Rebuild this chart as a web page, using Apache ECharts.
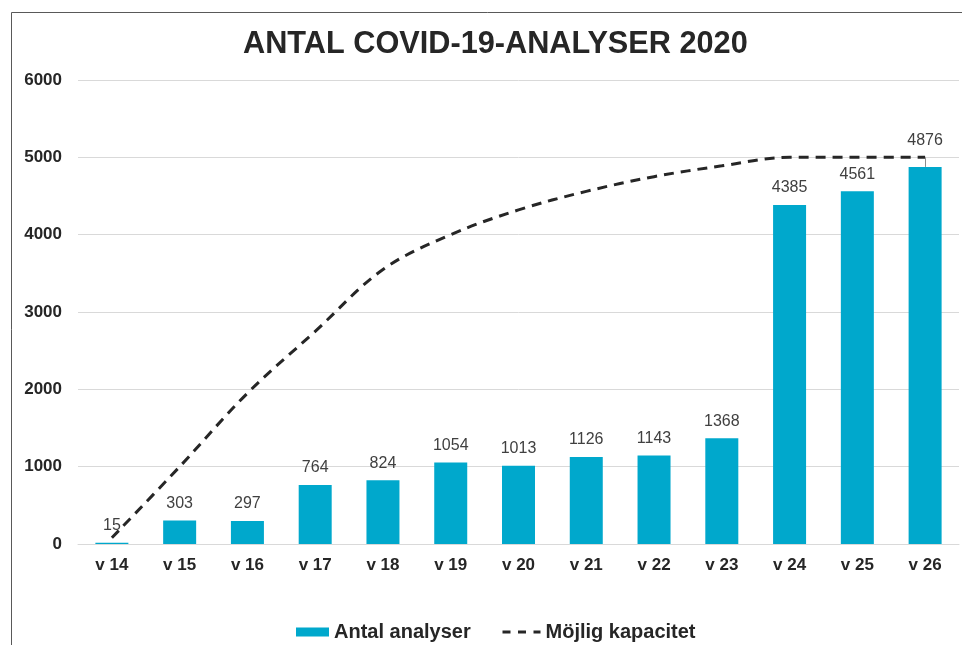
<!DOCTYPE html>
<html>
<head>
<meta charset="utf-8">
<script src="https://cdn.jsdelivr.net/npm/echarts@6/dist/echarts.min.js"></script>
<style>
html,body{margin:0;padding:0;background:#fff;}
#chart{width:962px;height:645px;}
</style>
</head>
<body>
<div id="chart"></div>
<script>
var categories = ['v 14','v 15','v 16','v 17','v 18','v 19','v 20','v 21','v 22','v 23','v 24','v 25','v 26'];
var antalAnalyser = [15, 303, 297, 764, 824, 1054, 1013, 1126, 1143, 1368, 4385, 4561, 4876];
var mojligKapacitet = [80, 1000, 1950, 2750, 3550, 4000, 4320, 4560, 4750, 4890, 5000, 5000, 5000];
var yTicks = [0, 1000, 2000, 3000, 4000, 5000, 6000];

var chart = echarts.init(document.getElementById('chart'), null, {renderer:'canvas'});
var font = 'Liberation Sans, Arial, sans-serif';
var last = antalAnalyser.length - 1;

var barData = antalAnalyser.map(function(v, i){
  if (i === last) {
    return {value: v, label: {offset: [0, -9]}};
  }
  return v;
});

var legendText = {fontFamily: font, fontSize: 20, fontWeight: 'bold', color: '#262626'};

chart.setOption({
  backgroundColor: '#fff',
  animation: false,
  title: {
    text: 'ANTAL COVID-19-ANALYSER 2020',
    left: 238,
    top: 24,
    textStyle: {fontFamily: font, fontSize: 30.7, fontWeight: 'bold', color: '#262626'}
  },
  graphic: [{
    type: 'rect',
    shape: {x: 11.5, y: 12.5, width: 1000, height: 700},
    style: {fill: 'none', stroke: '#595959', lineWidth: 1},
    silent: true, z: -1
  }],
  legend: [{
    top: 617,
    left: 291,
    itemWidth: 33,
    itemHeight: 9,
    itemGap: 5,
    icon: 'rect',
    textStyle: legendText,
    data: ['Antal analyser']
  }, {
    top: 617,
    left: 496,
    itemWidth: 38,
    itemHeight: 12,
    textStyle: legendText,
    data: [{name: 'Möjlig kapacitet', itemStyle: {opacity: 0}, lineStyle: {type: [8, 7.5], width: 3}}]
  }],
  grid: {left: 78, right: 3, top: 80, bottom: 101, containLabel: false},
  xAxis: {
    type: 'category',
    data: categories,
    axisLine: {show: true, lineStyle: {color: '#d9d9d9', width: 1}},
    axisTick: {show: false},
    axisLabel: {fontFamily: font, fontSize: 17, fontWeight: 'bold', color: '#262626', margin: 13}
  },
  yAxis: {
    type: 'value',
    min: yTicks[0],
    max: yTicks[yTicks.length - 1],
    interval: 1000,
    axisLine: {show: false},
    axisTick: {show: false},
    splitLine: {lineStyle: {color: '#d9d9d9', width: 1}},
    axisLabel: {fontFamily: font, fontSize: 17, fontWeight: 'bold', color: '#262626', margin: 16,
      formatter: function(v){ return String(v); }}
  },
  series: [{
    name: 'Antal analyser',
    type: 'bar',
    data: barData,
    barWidth: 33,
    itemStyle: {color: '#00a8cc'},
    label: {show: true, position: 'top', distance: 9, fontFamily: font, fontSize: 16, color: '#404040'},
    markLine: {
      silent: true,
      symbol: ['none', 'none'],
      label: {show: false},
      lineStyle: {color: '#8c8c8c', width: 1, type: 'solid'},
      data: [[
        {xAxis: categories[last], yAxis: antalAnalyser[last]},
        {xAxis: categories[last], yAxis: mojligKapacitet[last]}
      ]]
    },
    z: 2
  }, {
    name: 'Möjlig kapacitet',
    type: 'line',
    data: mojligKapacitet,
    smooth: 0.35,
    symbol: 'none',
    lineStyle: {color: '#262626', width: 3, type: [10, 7]},
    itemStyle: {color: '#262626'},
    z: 3
  }]
});
</script>
</body>
</html>
